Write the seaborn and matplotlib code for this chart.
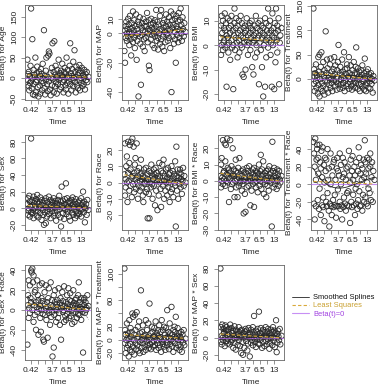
import numpy as np
import pandas as pd
import seaborn as sns
import matplotlib
matplotlib.use("Agg")
import matplotlib.pyplot as plt
from matplotlib.lines import Line2D

sns.set_style("white")
plt.rcParams['font.family'] = ['Liberation Sans', 'DejaVu Sans']

# transformed (KM-scale) event times shared by all covariates
time_km = [
    0.00,0.01,0.01,0.02,0.02,0.03,0.04,0.04,0.05,0.06,
    0.06,0.07,0.08,0.08,0.09,0.10,0.10,0.11,0.12,0.12,
    0.13,0.14,0.14,0.15,0.16,0.16,0.17,0.18,0.18,0.19,
    0.20,0.21,0.21,0.22,0.23,0.23,0.24,0.25,0.25,0.26,
    0.27,0.28,0.28,0.29,0.30,0.30,0.31,0.32,0.33,0.33,
    0.34,0.35,0.35,0.36,0.37,0.38,0.38,0.39,0.40,0.40,
    0.41,0.42,0.43,0.43,0.44,0.45,0.45,0.46,0.47,0.48,
    0.48,0.49,0.50,0.50,0.51,0.52,0.53,0.53,0.54,0.55,
    0.55,0.56,0.57,0.58,0.58,0.59,0.60,0.60,0.61,0.62,
    0.63,0.63,0.64,0.65,0.65,0.66,0.67,0.68,0.68,0.69,
    0.70,0.70,0.71,0.72,0.73,0.73,0.74,0.75,0.75,0.76,
    0.77,0.78,0.78,0.79,0.80,0.80,0.81,0.82,0.83,0.83,
    0.84,0.85,0.85,0.86,0.87,0.88,0.88,0.89,0.90,0.90,
    0.91,0.92,0.93,0.93,0.94,0.95,0.96,0.97,0.98,1.00]

time_tick_pos = [0.06, 0.176, 0.293, 0.409, 0.525, 0.641, 0.758, 0.874]
time_tick_labels = ["0.42", "", "", "3.7", "", "6.5", "", "13"]

beta_age = [
    45,-5,10,-20,15,-30,5,-12,30,-8,
    170,-25,95,0,-40,20,-15,8,-42,3,
    50,-10,-35,12,-5,28,-22,2,-45,15,
    -18,5,-38,22,-8,10,-30,0,35,-12,
    117,-25,6,-40,18,-5,50,-15,3,-32,
    55,-8,65,60,-28,12,-42,0,25,-18,
    85,-3,-35,15,90,8,-20,30,-10,2,
    -38,20,5,-15,45,-5,12,-28,0,18,
    -22,8,35,-10,3,-35,15,-5,25,-18,
    10,-28,50,2,-12,20,-38,6,-8,30,
    85,-15,12,-30,5,22,-5,40,-20,0,
    68,-10,15,-35,28,3,-18,8,20,-25,
    12,-5,32,-30,18,0,-12,25,5,-20,
    8,-15,20,2,-28,10,-5,15,-10,3]

beta_map = [
    -12,2,-20,5,-3,8,0,-5,3,10,
    -2,6,-8,1,12,-4,3,-15,7,0,
    4,-6,15,2,-3,9,-10,5,-1,13,
    -18,3,-5,8,-43,0,6,-2,11,-7,
    -35,4,-1,7,-9,2,10,-4,5,-12,
    1,8,-3,5,14,-6,0,3,-22,9,
    -25,2,6,-4,10,-1,4,-8,7,0,
    3,-10,9,-2,5,16,-5,1,8,-3,
    -11,6,0,12,-7,3,-4,16,2,-9,
    7,-2,4,-12,9,1,-6,5,13,-1,
    0,8,-5,3,11,-3,6,-10,2,15,
    -40,4,9,-2,6,13,-7,1,10,-4,
    -20,5,12,-1,3,8,-6,14,2,-3,
    9,17,0,6,-5,11,3,-2,7,1]

beta_bmi = [
    3,-4,8,12,0,5,-2,10,1,7,
    2,13,-1,6,9,-17,4,0,11,3,
    -3,7,1,10,5,-6,8,2,12,-1,
    6,0,-18,4,9,15,-2,7,3,11,
    1,8,-5,5,2,10,-3,6,0,12,
    4,-1,9,-12,3,7,-13,1,8,5,
    -10,6,2,11,0,4,-4,8,1,9,
    5,-2,7,3,10,-9,1,6,-12,4,
    2,8,-5,5,12,0,7,-3,3,9,
    -16,4,1,10,6,-2,8,3,-9,5,
    -21,7,0,4,11,-17,2,9,-5,6,
    3,15,-1,8,5,2,10,-4,6,1,
    -17,4,13,0,7,-18,3,9,-7,5,
    15,2,8,-3,6,11,-16,1,4,7]

beta_treatment = [
    145,-10,20,5,-25,12,-5,30,-18,2,
    8,-30,45,-12,15,-36,50,0,-20,25,
    55,-8,10,-25,35,-15,5,-32,18,-3,
    98,12,-20,40,-5,22,-28,2,8,-12,
    30,-18,42,0,-8,15,-25,6,-2,20,
    45,10,-15,28,-6,3,-22,18,35,-10,
    70,-5,12,-20,25,0,-12,8,40,-18,
    15,-8,55,2,-25,20,-3,10,-15,30,
    22,-10,5,45,-20,12,0,-6,28,-15,
    8,-22,18,2,-10,35,-5,12,-18,25,
    65,-8,10,0,-20,22,5,-12,15,-25,
    3,18,-10,8,-15,28,0,-5,12,-22,
    42,-12,6,-25,15,0,-8,20,-18,5,
    10,-5,2,-20,12,-10,0,-28,6,-3]

beta_sex = [
    5,-8,12,0,-3,15,-10,8,2,-5,
    84,3,-6,10,-2,14,-12,6,0,9,
    -4,11,2,-9,7,16,-3,5,-11,1,
    8,-6,13,0,-14,4,10,-2,6,-8,
    -20,3,9,-5,-18,12,1,-10,7,-3,
    2,14,-7,5,-1,10,-12,4,8,-4,
    0,7,-9,12,3,-6,1,9,-15,5,
    6,-3,10,-8,2,15,-1,4,-11,8,
    -22,26,3,-6,9,0,-13,5,11,-2,
    30,4,-7,1,12,-4,7,-10,2,9,
    -15,6,0,10,-5,3,13,-8,4,-1,
    8,-12,2,11,-4,5,-9,1,7,-6,
    3,-7,9,0,-3,12,-10,4,-1,6,
    20,-5,2,8,-17,0,5,-8,10,-2]

beta_race = [
    5,-8,24,2,-3,10,0,16,-12,6,
    25,1,-5,12,23,-2,8,25,-9,3,
    27,4,-1,22,6,-6,11,2,15,-4,
    24,0,7,-10,3,-2,9,-5,1,5,
    14,-3,6,2,-8,4,-12,8,0,-1,
    3,-6,9,1,-4,5,-22,2,-7,7,
    -22,0,6,-3,11,-1,4,-10,2,8,
    -2,5,-14,3,9,-5,1,6,-17,2,
    4,-8,12,0,3,-4,7,-15,1,11,
    6,-2,14,1,-10,4,-5,8,0,2,
    -8,3,9,-3,5,0,-12,6,2,-6,
    10,1,-4,7,3,-9,5,0,13,-2,
    -27,22,4,-5,8,1,-10,3,6,-1,
    8,-3,2,5,-7,1,9,-2,4,0]

beta_bmi_race = [
    3,-4,10,0,14,2,-2,25,5,1,
    6,23,-3,12,22,0,4,26,-1,8,
    2,-13,7,1,5,25,-5,3,9,-2,
    20,4,-1,7,-10,3,0,13,6,-4,
    1,-10,5,8,-3,2,14,-1,4,0,
    6,-6,3,-2,7,0,-20,5,1,-8,
    -19,2,8,-4,4,0,6,-3,9,1,
    3,-15,0,5,-6,2,7,-2,4,-16,
    8,-1,3,6,-4,0,5,2,-7,4,
    1,10,-3,6,0,16,-5,3,7,-1,
    4,12,-8,1,5,-2,3,-10,6,0,
    -3,7,2,-6,9,0,4,-1,5,2,
    -28,24,1,6,-4,3,8,-2,0,5,
    2,-5,7,0,4,-3,6,1,-1,3]

beta_treat_race = [
    48,-22,35,20,-40,52,5,-25,28,45,
    40,-18,12,30,-28,45,-5,25,-35,18,
    38,-24,8,42,-15,-26,22,2,-42,30,
    15,-20,28,-25,40,-10,5,-30,18,-48,
    -22,35,0,-25,20,-35,10,-18,25,-26,
    28,-12,-24,5,-38,18,-25,30,-6,15,
    -25,10,-20,35,-28,0,22,-24,-40,8,
    30,-26,12,-15,25,-22,5,-30,18,-10,
    -24,20,-8,38,-25,10,-44,2,28,-20,
    15,-26,32,-12,5,-24,20,-35,10,-5,
    -22,25,0,-28,15,-18,42,-8,30,-25,
    12,-24,22,5,-30,18,-12,28,-20,8,
    50,-15,25,12,-22,30,2,-25,18,-5,
    28,-10,20,35,-18,8,25,-20,15,5]

beta_sex_race = [
    -35,5,15,-8,30,2,25,-3,12,8,
    40,38,42,0,28,-12,35,5,-5,18,
    20,-20,8,3,30,-2,15,-25,10,1,
    25,-8,4,-22,12,0,27,-4,9,-30,
    -32,6,18,-5,2,25,-10,8,-28,3,
    12,-3,22,0,-15,5,28,-7,10,-2,
    -47,4,-38,15,-5,8,20,1,-12,6,
    0,10,-8,3,22,-3,7,-15,12,2,
    -30,5,18,-2,9,0,-12,24,4,-6,
    8,-10,2,15,-4,6,22,-8,1,10,
    3,17,-6,9,0,-14,5,20,-3,7,
    -12,4,10,-2,6,12,-8,2,15,-4,
    28,0,-5,8,3,-10,12,1,6,-2,
    -43,10,5,12,-3,8,0,2,15,4]

beta_map_treat = [
    108,-5,15,-20,8,0,-12,25,3,-8,
    10,-25,30,2,-15,18,-6,5,-18,12,
    40,-10,35,0,-22,8,38,-5,15,-14,
    42,3,-8,20,-16,5,28,-3,-20,10,
    75,0,-12,12,-5,22,-18,6,2,-10,
    8,-15,30,-2,15,-8,4,25,-12,0,
    55,-6,10,-14,3,20,-4,12,-10,6,
    -2,18,-8,5,28,-15,0,10,-5,15,
    6,-12,22,2,-8,12,-18,4,30,-3,
    15,-6,0,20,-10,8,-15,3,18,-4,
    45,-8,5,12,-14,2,25,-6,10,0,
    50,-10,8,-2,15,-18,4,20,-5,12,
    35,2,-12,6,18,-8,0,10,-15,4,
    5,-10,12,0,-18,8,-4,15,-8,2]

beta_map_sex = [
    80,-5,12,2,-8,15,0,-3,10,5,
    6,-10,14,0,8,-4,12,3,-7,9,
    -2,10,4,-8,15,1,-5,7,11,-3,
    5,-12,8,2,-6,13,-1,9,-14,3,
    0,7,-9,4,12,-3,6,-10,1,8,
    -18,3,9,-5,-20,5,0,-12,7,2,
    10,-4,1,8,-15,3,-7,11,0,5,
    -22,4,-6,9,1,-3,12,-9,6,0,
    25,-5,3,8,-11,0,6,-2,10,-7,
    30,2,-8,5,-3,11,0,-12,4,7,
    -5,9,1,-10,6,2,12,-4,3,-8,
    7,-2,10,0,-13,5,-6,2,9,-1,
    3,-9,6,12,-4,0,8,-11,2,5,
    20,-17,4,-6,8,1,-3,10,-8,2]

panel_names = ["Age", "MAP", "BMI", "Treatment", "Sex", "Race", "BMI * Race",
               "Treatment * Race", "Sex * Race", "MAP * Treatment", "MAP * Sex"]
panel_values = [beta_age, beta_map, beta_bmi, beta_treatment, beta_sex, beta_race,
                beta_bmi_race, beta_treat_race, beta_sex_race, beta_map_treat, beta_map_sex]
panel_yticks = [
    ([-50, 0, 50, 100, 150], ["-50", "0", "50", "100", "150"]),
    ([-40, -30, -20, -10, 0, 10], ["-40", "", "-20", "", "0", "10"]),
    ([-20, -10, 0, 10], ["-20", "-10", "0", "10"]),
    ([0, 50, 100, 150], ["0", "50", "100", "150"]),
    ([-20, 0, 20, 40, 60, 80], ["-20", "0", "20", "40", "60", "80"]),
    ([-20, -10, 0, 10, 20], ["-20", "-10", "0", "10", "20"]),
    ([-30, -20, -10, 0, 10, 20], ["-30", "-20", "-10", "0", "10", "20"]),
    ([-40, -20, 0, 20, 40], ["-40", "-20", "0", "20", "40"]),
    ([-40, -20, 0, 20, 40], ["-40", "-20", "0", "20", "40"]),
    ([-20, 0, 20, 40, 60, 80, 100], ["-20", "0", "20", "", "60", "", "100"]),
    ([-20, 0, 20, 40, 60, 80], ["-20", "0", "20", "40", "60", "80"]),
]

SPLINE_C = "#222222"
LS_C = "#D9A93A"
ZERO_C = "#B060F0"
FRAME_C = "#666666"
FS = 6.0

W, H = 389, 389
col_left = [25, 122, 218, 311]
row_top = [5, 135, 265]
pw, ph = 66, 95

fig = plt.figure(figsize=(W / 100, H / 100), dpi=100)
x = np.array(time_km)
grid = np.linspace(x.min(), x.max(), 120)

for i, (name, vals) in enumerate(zip(panel_names, panel_values)):
    r, c = divmod(i, 4)
    ax = fig.add_axes([col_left[c] / W, 1 - (row_top[r] + ph) / H, pw / W, ph / H])
    y = np.array(vals, dtype=float)
    df = pd.DataFrame({"time": x, "beta": y})
    sns.scatterplot(data=df, x="time", y="beta", ax=ax, s=15, marker="o",
                    facecolor="none", edgecolor="#2a2a2a", linewidth=0.6,
                    legend=False, zorder=2)
    # smoothing fit (cubic) with +/- 2 se bands
    X = np.vander(x, 4)
    coef, *_ = np.linalg.lstsq(X, y, rcond=None)
    resid = y - X @ coef
    s2 = resid @ resid / (len(y) - 4)
    cov = s2 * np.linalg.inv(X.T @ X)
    G = np.vander(grid, 4)
    fit = G @ coef
    se = np.sqrt(np.sum((G @ cov) * G, axis=1))
    ax.axhline(0, color=ZERO_C, lw=0.8, alpha=0.7, zorder=3)
    sns.lineplot(x=grid, y=fit, ax=ax, color=SPLINE_C, lw=0.6, zorder=4)
    sns.lineplot(x=grid, y=fit + 2 * se, ax=ax, color="#555555", lw=0.45, ls=(0, (3, 2)), zorder=4)
    sns.lineplot(x=grid, y=fit - 2 * se, ax=ax, color="#555555", lw=0.45, ls=(0, (3, 2)), zorder=4)
    lcoef = np.polyfit(x, y, 1)
    sns.lineplot(x=grid, y=np.polyval(lcoef, grid), ax=ax, color=LS_C, lw=0.8,
                 ls=(0, (3, 2)), zorder=4)

    span = y.max() - y.min()
    ax.set_ylim(y.min() - 0.04 * span, y.max() + 0.04 * span)
    ax.set_xlim(-0.04, 1.04)
    ax.set_xticks(time_tick_pos)
    ax.set_xticklabels(time_tick_labels)
    yt, yl = panel_yticks[i]
    ax.set_yticks(yt)
    ax.set_yticklabels(yl, rotation=90, va="center")
    ax.tick_params(axis="both", direction="out", length=3, width=0.5, color=FRAME_C,
                   labelsize=FS, pad=2, left=True, bottom=True)
    for sp in ax.spines.values():
        sp.set_color(FRAME_C)
        sp.set_linewidth(0.6)
    ax.set_xlabel("Time", fontsize=FS, labelpad=4)
    ax.set_ylabel("Beta(t) for " + name, fontsize=FS, labelpad=3)

handles = [Line2D([], [], color=SPLINE_C, lw=0.6),
           Line2D([], [], color=LS_C, lw=0.8, ls=(0, (3, 2))),
           Line2D([], [], color=ZERO_C, lw=0.8, alpha=0.7)]
fig.legend(handles, ["Smoothed Splines", "Least Squares", "Beta(t)=0"],
           loc="upper left", bbox_to_anchor=(292 / W, 1 - 294 / H), frameon=False,
           fontsize=5.4, handlelength=2.2, handletextpad=0.6, labelspacing=0.12,
           borderaxespad=0, borderpad=0, labelcolor=["#111111", "#C9A030", "#A040E0"])

fig.savefig("out.png", dpi=100)
